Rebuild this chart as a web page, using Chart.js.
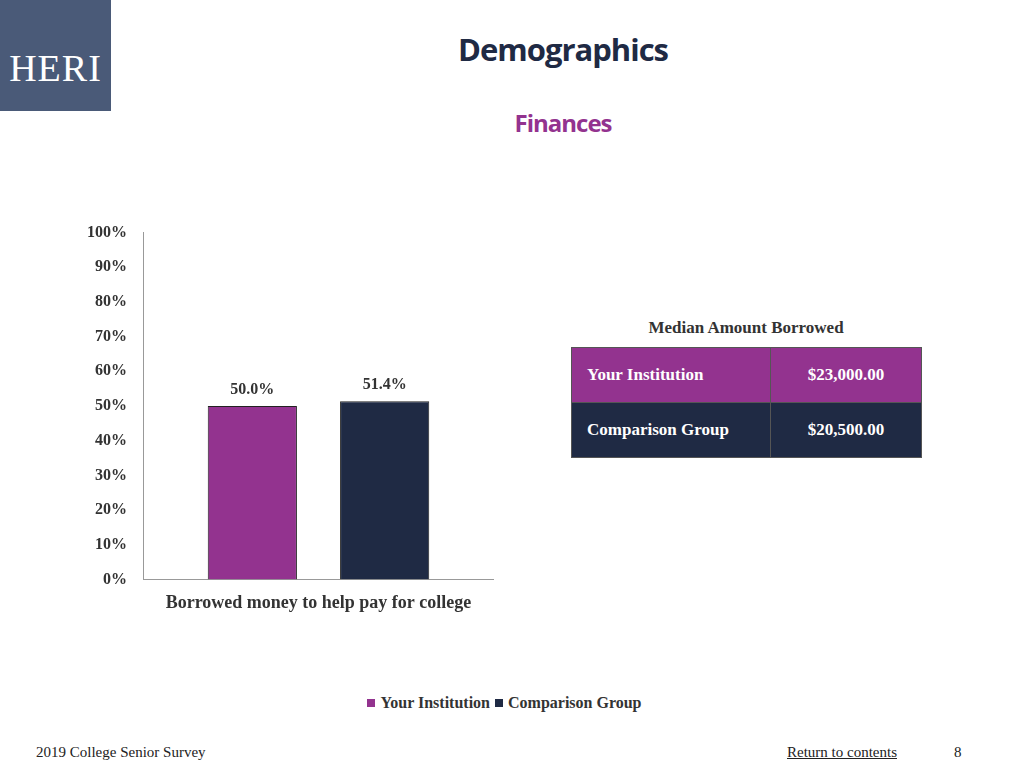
<!DOCTYPE html>
<html><head><meta charset="utf-8">
<script src="https://cdn.jsdelivr.net/npm/chart.js@4"></script>
<style>
body{margin:0;width:1024px;height:768px;position:relative;background:#fff;font-family:"Liberation Serif",serif;overflow:hidden}
.abs{position:absolute}
#logo{left:0;top:0;width:111px;height:111px;background:#4a5a78;color:#fff;font-size:38px;line-height:136px;text-align:center;letter-spacing:1px}
#title{left:0;width:1126px;top:28px;text-align:center;font:bold 31px "Open Sans",sans-serif;color:#1f2a44;letter-spacing:-1px}
#sub{left:0;width:1126px;top:106px;text-align:center;font:bold 24px "Open Sans",sans-serif;color:#93338f;letter-spacing:-1px}
#wrap{left:79px;top:215px;width:415px;height:404px}
#legend{left:0;width:1004px;top:694px;text-align:center;font-size:16px;font-weight:bold;color:#333}
#legend span.b{display:inline-block;width:8px;height:8px;margin:0 5px 1px 5px}
#tblh{left:571px;width:350px;top:318px;text-align:center;font-size:17px;font-weight:bold;color:#333}
table{position:absolute;left:571px;top:347px;width:351px;border-collapse:collapse;color:#fff;font-size:17px;font-weight:bold}
td{height:54px;border:1px solid #555;padding:0 0 0 15px}
td.v{text-align:center;padding:0}
#foot{left:36px;top:744px;font-size:15px;color:#222}
#ret{left:787px;top:744px;font-size:15px;color:#222;text-decoration:underline}
#pg{left:954px;top:744px;font-size:15px;color:#222}
</style></head><body>
<div id="logo" class="abs">HERI</div>
<div id="title" class="abs">Demographics</div>
<div id="sub" class="abs">Finances</div>
<div id="wrap" class="abs"><canvas id="c" width="415" height="404"></canvas></div>
<div id="legend" class="abs"></div>
<div id="tblh" class="abs">Median Amount Borrowed</div>
<table id="tbl"></table>
<div id="foot" class="abs">2019 College Senior Survey</div>
<div id="ret" class="abs">Return to contents</div>
<div id="pg" class="abs">8</div>
<script>
const categories = ["Borrowed money to help pay for college"];
const seriesNames = ["Your Institution", "Comparison Group"];
const seriesValues = [[50.0], [51.4]];
const seriesColors = ["#93338f", "#1f2a44"];
const tableRows = ["Your Institution", "Comparison Group"];
const tableValues = ["$23,000.00", "$20,500.00"];

document.getElementById("legend").innerHTML = seriesNames.map((n, i) =>
  `<span class="b" style="background:${seriesColors[i]}"></span>${n}`).join("");
document.getElementById("tbl").innerHTML = tableRows.map((n, i) =>
  `<tr style="background:${seriesColors[i]}"><td style="width:183px">${n}</td><td class="v">${tableValues[i]}</td></tr>`).join("");

const labelPlugin = {
  id: "lbl",
  afterDatasetsDraw(chart) {
    const ctx = chart.ctx;
    ctx.save();
    ctx.font = "bold 16px 'Liberation Serif'";
    ctx.fillStyle = "#333";
    ctx.textAlign = "center";
    chart.data.datasets.forEach((ds, i) => {
      chart.getDatasetMeta(i).data.forEach((bar, j) => {
        ctx.fillText(ds.data[j].toFixed(1) + "%", bar.x, bar.y - 12);
      });
    });
    ctx.restore();
  }
};

new Chart(document.getElementById("c"), {
  type: "bar",
  data: {
    labels: categories,
    datasets: seriesNames.map((n, i) => ({
      label: n, data: seriesValues[i], backgroundColor: seriesColors[i],
      borderColor: "#222", borderWidth: 1,
      categoryPercentage: 0.754, barPercentage: 0.674
    }))
  },
  options: {
    responsive: false, animation: false,
    layout: { padding: { top: 3 } },
    plugins: { legend: { display: false }, tooltip: { enabled: false } },
    scales: {
      x: { grid: { display: false }, border: { color: "#999" },
        ticks: { color: "#333", padding: 5, font: { family: "Liberation Serif", size: 18, weight: "bold" } } },
      y: { min: 0, max: 100, grid: { display: false }, border: { color: "#999" },
        ticks: { stepSize: 10, color: "#333", padding: 8, callback: v => v + "%",
          font: { family: "Liberation Serif", size: 16, weight: "bold" } } }
    }
  },
  plugins: [labelPlugin]
});
</script>
</body></html>
